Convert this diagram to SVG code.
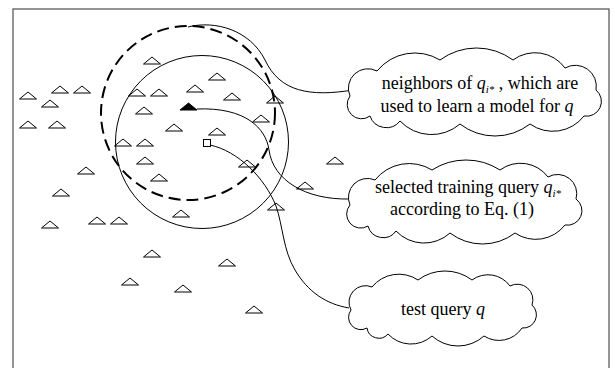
<svg xmlns="http://www.w3.org/2000/svg" width="615" height="368" viewBox="0 0 615 368">
  <defs>
    <style>
      .frame{fill:none;stroke:#4d4d4d;stroke-width:1.2}
      .ring{fill:none;stroke:#000;stroke-width:1}
      .ring-dash{fill:none;stroke:#000;stroke-width:2;stroke-dasharray:12 6}
      .link{fill:none;stroke:#000;stroke-width:1}
      .cloud{fill:#fff;stroke:#000;stroke-width:1}
      .pt{fill:none;stroke:#000;stroke-width:1}
      .pt-sel{fill:#000;stroke:#000;stroke-width:1}
      .pt-test{fill:#fff;stroke:#000;stroke-width:1}
      text{font-family:"Liberation Serif","Times New Roman",serif;font-size:18px;fill:#000}
      .it{font-style:italic}
      .sub{font-size:11px;font-style:italic}
    </style>
    <!-- training query marker: base centred on the origin -->
    <polygon id="tri" points="-8.5,0 0,-7 8.5,0"/>
  </defs>

  <rect class="frame" x="13" y="9" width="596" height="362"/>

  <!-- neighbourhoods -->
  <circle class="ring-dash" cx="188" cy="113" r="87"/>
  <circle class="ring" cx="202" cy="142" r="86.5"/>

  <g id="connectors">
    <path class="link" d="M188,27 C215,20 250,30 265,60 C280,92 310,97 353,90"/>
    <path class="link" d="M197,109 C245,107 266,128 269,150 C273,180 305,200 350,199"/>
    <path class="link" d="M210,145 C238,151 265,178 276,206 C283,226 283,250 295,270 C308,292 326,304 349,308"/>
  </g>

  <g id="training-queries">
    <use href="#tri" class="pt" x="152" y="64"/>
    <use href="#tri" class="pt" x="217" y="80"/>
    <use href="#tri" class="pt" x="60" y="93"/>
    <use href="#tri" class="pt" x="82" y="93"/>
    <use href="#tri" class="pt" x="28" y="99"/>
    <use href="#tri" class="pt" x="50" y="107"/>
    <use href="#tri" class="pt" x="137" y="96"/>
    <use href="#tri" class="pt" x="159" y="96"/>
    <use href="#tri" class="pt" x="195" y="92"/>
    <use href="#tri" class="pt" x="232" y="100"/>
    <use href="#tri" class="pt" x="275" y="103"/>
    <use href="#tri" class="pt" x="261" y="122"/>
    <use href="#tri" class="pt" x="144" y="114"/>
    <use href="#tri" class="pt" x="28" y="128"/>
    <use href="#tri" class="pt" x="57" y="128"/>
    <use href="#tri" class="pt" x="174" y="131"/>
    <use href="#tri" class="pt" x="217" y="135"/>
    <use href="#tri" class="pt" x="123" y="146"/>
    <use href="#tri" class="pt" x="145" y="146"/>
    <use href="#tri" class="pt" x="145" y="164"/>
    <use href="#tri" class="pt" x="247" y="167"/>
    <use href="#tri" class="pt" x="86" y="174"/>
    <use href="#tri" class="pt" x="159" y="181"/>
    <use href="#tri" class="pt" x="305" y="189"/>
    <use href="#tri" class="pt" x="335" y="164"/>
    <use href="#tri" class="pt" x="61" y="196"/>
    <use href="#tri" class="pt" x="181" y="217"/>
    <use href="#tri" class="pt" x="276" y="210"/>
    <use href="#tri" class="pt" x="50" y="228"/>
    <use href="#tri" class="pt" x="97" y="224"/>
    <use href="#tri" class="pt" x="119" y="224"/>
    <use href="#tri" class="pt" x="152" y="257"/>
    <use href="#tri" class="pt" x="227" y="266"/>
    <use href="#tri" class="pt" x="130" y="285"/>
    <use href="#tri" class="pt" x="183" y="292"/>
    <use href="#tri" class="pt" x="254" y="313"/>
  </g>

  <g id="selected-query">
    <use href="#tri" class="pt-sel" x="188.5" y="110"/>
  </g>

  <g id="test-query">
    <rect class="pt-test" x="203.5" y="139.5" width="7" height="7"/>
  </g>

  <g id="cloud-neighbors">
    <path class="cloud" d="M350,96 A19.5,19.5 0 0 1 377,71 A48.7,48.7 0 0 1 440,60 A61.5,61.5 0 0 1 513,60 A37,37 0 0 1 565,68 A21,21 0 0 1 596,90 A14.8,14.8 0 0 1 584,116 A39.4,39.4 0 0 1 530,124 A57,57 0 0 1 460,124 A43.5,43.5 0 0 1 400,121 A17.3,17.3 0 0 1 370,116 A14.3,14.3 0 0 1 350,96 Z"/>
    <text x="480" y="89" text-anchor="middle">neighbors of <tspan class="it">q</tspan><tspan class="sub" dy="4">i*</tspan><tspan dy="-4"> , which are</tspan></text>
    <text x="477" y="112" text-anchor="middle">used to learn a model for <tspan class="it">q</tspan></text>
  </g>

  <g id="cloud-selected">
    <path class="cloud" d="M350,205 A19,19 0 0 1 375,180 A43.6,43.6 0 0 1 432,170 A62.8,62.8 0 0 1 500,170 A34.4,34.4 0 0 1 548,177 A19.2,19.2 0 0 1 576,199 A14.5,14.5 0 0 1 565,225 A37,37 0 0 1 515,233 A53.5,53.5 0 0 1 450,233 A38.6,38.6 0 0 1 396,231 A15.7,15.7 0 0 1 368,226 A14,14 0 0 1 350,205 Z"/>
    <text x="468" y="193" text-anchor="middle">selected training query <tspan class="it">q</tspan><tspan class="sub" dy="4">i*</tspan></text>
    <text x="462" y="215" text-anchor="middle">according to Eq. (1)</text>
  </g>

  <g id="cloud-test">
    <path class="cloud" d="M351,310 A16.5,16.5 0 0 1 372,287 A34.5,34.5 0 0 1 418,280 A45,45 0 0 1 472,280 A27.1,27.1 0 0 1 510,286 A15.6,15.6 0 0 1 532,305 A13.2,13.2 0 0 1 522,328 A27.5,27.5 0 0 1 484,336 A38.8,38.8 0 0 1 432,336 A31.4,31.4 0 0 1 388,334 A12,12 0 0 1 367,328 A12.3,12.3 0 0 1 351,310 Z"/>
    <text x="443" y="315" text-anchor="middle">test query <tspan class="it">q</tspan></text>
  </g>
</svg>
